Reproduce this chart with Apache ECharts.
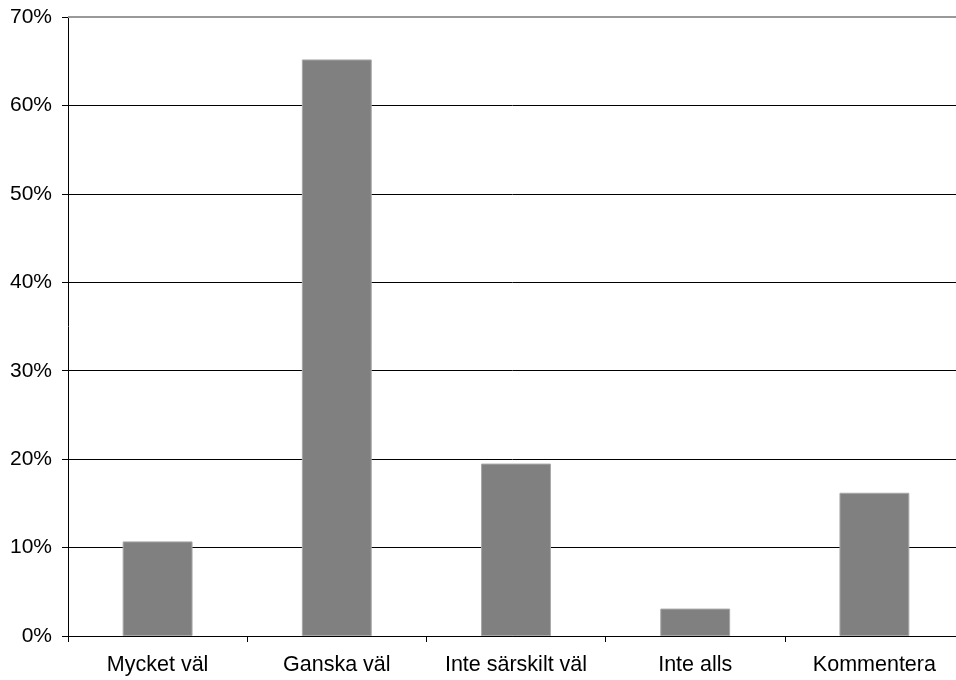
<!DOCTYPE html>
<html><head><meta charset="utf-8">
<script src="https://cdn.jsdelivr.net/npm/echarts@6/dist/echarts.min.js"></script>
<style>html,body{margin:0;padding:0;background:#fff}#c{width:956px;height:680px}</style>
</head><body><div id="c"></div>
<script>
const categories = ['Mycket väl', 'Ganska väl', 'Inte särskilt väl', 'Inte alls', 'Kommentera'];
const values = [10.7, 65.2, 19.5, 3.1, 16.2];
const yTicks = [0, 10, 20, 30, 40, 50, 60, 70];

const chart = echarts.init(document.getElementById('c'), null, {renderer: 'canvas'});
chart.setOption({
  animation: false,
  grid: {left: 68, width: 896, top: 17, height: 619, containLabel: false, outerBoundsMode: 'none'},
  xAxis: {
    type: 'category', data: categories,
    axisLine: {lineStyle: {color: '#000', width: 1}},
    axisTick: {show: true, interval: 0, alignWithLabel: false, length: 6, lineStyle: {color: '#000'}},
    axisLabel: {interval: 0, hideOverlap: false, color: '#000', fontFamily: 'Liberation Sans, Arial', fontSize: 21.5, margin: 18}
  },
  yAxis: {
    type: 'value', min: yTicks[0], max: yTicks[yTicks.length - 1], interval: 10,
    axisLine: {show: true, lineStyle: {color: '#000', width: 1}},
    axisTick: {show: true, length: 6, lineStyle: {color: '#000'}},
    axisLabel: {color: '#000', fontFamily: 'Liberation Sans, Arial', fontSize: 21, margin: 16,
      formatter: v => v + '%'},
    splitLine: {show: true, lineStyle: {color: '#000', width: 1}}
  },
  series: [{
    type: 'bar', data: values, barWidth: '39%',
    itemStyle: {color: '#808080', borderColor: '#a8a8a8', borderWidth: 1},
    z: 3
  }]
});
const topY = chart.convertToPixel({yAxisIndex: 0}, yTicks[yTicks.length - 1]);
chart.setOption({graphic: [{type: 'line', shape: {x1: 68, y1: topY, x2: 956, y2: topY},
  style: {stroke: '#999', lineWidth: 2}, z: 10}]});
</script></body></html>
